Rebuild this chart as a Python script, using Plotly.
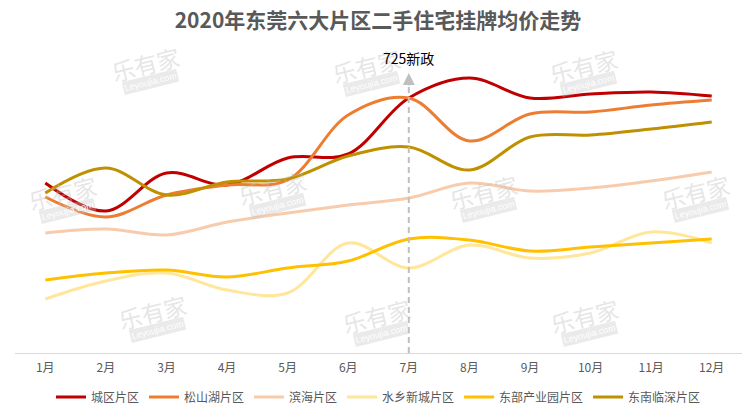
import plotly.graph_objects as go

months = ["1月", "2月", "3月", "4月", "5月", "6月", "7月", "8月", "9月", "10月", "11月", "12月"]

# Relative listed-price index (no y-axis labels in the original)
chengqu = [170, 142, 180, 168, 195, 199, 255, 275, 255, 259, 261, 257]
songshanhu = [156, 136, 158, 168, 173, 238, 255, 212, 239, 241, 248, 253]
binhai = [120, 124, 118, 131, 140, 148, 155, 170, 162, 165, 172, 181]
shuixiang = [54, 72, 80, 63, 60, 110, 85, 108, 95, 100, 121, 110]
dongbu = [73, 80, 83, 76, 85, 92, 114, 113, 102, 106, 110, 114]
dongnan = [160, 185, 158, 171, 174, 197, 206, 183, 216, 218, 224, 231]

series_names = ["城区片区", "松山湖片区", "滨海片区", "水乡新城片区", "东部产业园片区", "东南临深片区"]
series_values = [chengqu, songshanhu, binhai, shuixiang, dongbu, dongnan]
colors = ["#C00000", "#ED7D31", "#F8CBAD", "#FFE699", "#FFC000", "#BF9000"]

policy_month = "7月"
policy_label = "725新政"

FONT = "Noto Sans CJK SC, Microsoft YaHei, sans-serif"

fig = go.Figure()
for name, vals, col in zip(series_names, series_values, colors):
    fig.add_trace(go.Scatter(
        x=months, y=vals, name=name, mode="lines",
        line=dict(color=col, width=3, shape="spline", smoothing=1.0),
        hoverinfo="x+y+name",
    ))

W, H = 756, 416
L, R, T, B = 15, 14, 53, 63
pw, ph = W - L - R, H - T - B


def px2paper(x, y):
    return (x - L) / pw, (H - B - y) / ph


annotations = []
# watermarks (glyph centre)
marks = [(145, 64), (366, 66), (583, 66),
         (62, 193), (272, 188), (483, 192), (695, 192),
         (152, 312), (376, 316), (584, 316)]
for cx, cy in marks:
    ax_, ay_ = px2paper(cx, cy)
    annotations.append(dict(
        x=ax_, y=ay_, xref="paper", yref="paper", text="乐有家",
        xanchor="center", yanchor="middle",
        showarrow=False, textangle=-14,
        font=dict(family=FONT, size=23, color="rgba(190,190,190,0.4)"),
    ))
    bx_, by_ = px2paper(cx + 5, cy + 18)
    annotations.append(dict(
        x=bx_, y=by_, xref="paper", yref="paper", text="Leyoujia.com",
        xanchor="center", yanchor="middle",
        showarrow=False, textangle=-14, bgcolor="rgba(195,195,195,0.35)",
        borderpad=1,
        font=dict(family="Arial, sans-serif", size=9, color="white"),
    ))

# policy marker
annotations.append(dict(
    x=policy_month, y=280, xref="x", yref="y", text="",
    showarrow=True, ax=0, ay=14, arrowhead=2, arrowsize=1.2, arrowwidth=2,
    arrowcolor="#BFBFBF",
))
annotations.append(dict(
    x=policy_month, y=295, xref="x", yref="y", text=policy_label,
    xanchor="center", yanchor="middle",
    showarrow=False, font=dict(family=FONT, size=14, color="#000000"),
))

fig.add_shape(type="line", xref="x", yref="y", x0=policy_month, x1=policy_month,
              y0=0, y1=268, line=dict(color="#BFBFBF", width=2, dash="6px,4px"))

fig.update_layout(
    width=W, height=H,
    margin=dict(l=L, r=R, t=T, b=B, autoexpand=False),
    paper_bgcolor="white", plot_bgcolor="white",
    title=dict(text="<b>2020年东莞六大片区二手住宅挂牌均价走势</b>", x=0.5, xanchor="center",
               y=1 - 21 / H, yanchor="middle",
               font=dict(family=FONT, size=21, color="#595959")),
    xaxis=dict(type="category", range=[-0.5, 11.5], showgrid=False, zeroline=False,
               showline=True, linecolor="#D9D9D9", linewidth=1, ticks="",
               ticklabelstandoff=4,
               tickfont=dict(family=FONT, size=12, color="#595959"), fixedrange=True),
    yaxis=dict(range=[0, 300], showgrid=False, zeroline=False, showline=False,
               showticklabels=False, fixedrange=True),
    legend=dict(orientation="h", x=0.5, xanchor="center", yref="container",
                y=1 - 397 / H, yanchor="middle",
                font=dict(family=FONT, size=12, color="#595959"),
                itemwidth=30, tracegroupgap=0, bgcolor="rgba(0,0,0,0)"),
    annotations=annotations,
    showlegend=True,
)

fig.write_html("out.html", config={"displayModeBar": False},
               post_script="document.body.style.margin='0';document.body.style.overflow='hidden';")
